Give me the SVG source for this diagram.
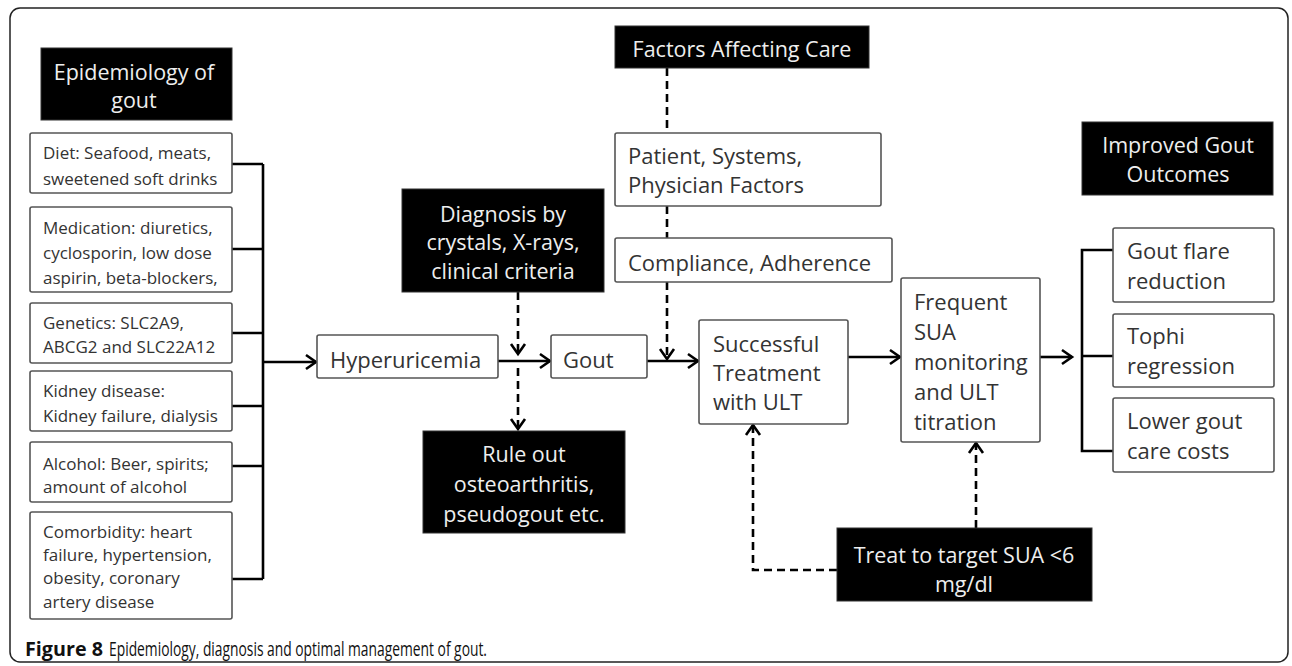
<svg xmlns="http://www.w3.org/2000/svg" width="1292" height="666" viewBox="0 0 1292 666">
<defs>
<style>
.bw{fill:#fff;stroke:#555;stroke-width:1.6}
.bb{fill:#000;stroke:#333;stroke-width:1}
.t{font-family:"Open Sans","Liberation Sans",sans-serif;font-size:17px;fill:#333}
.tm{font-family:"Open Sans","Liberation Sans",sans-serif;font-size:22px;fill:#333}
.tw{font-family:"Open Sans","Liberation Sans",sans-serif;font-size:21.5px;fill:#eee}
.c{fill:none;stroke:#000;stroke-width:2.6}
.d{fill:none;stroke:#000;stroke-width:2.6;stroke-dasharray:8 5}
.cap{font-family:"Open Sans","Liberation Sans",sans-serif;font-size:20px;fill:#111}
</style>
<marker id="ah" markerUnits="userSpaceOnUse" markerWidth="16" markerHeight="18" refX="13" refY="8" orient="auto" viewBox="0 0 16 16">
<path d="M3,1 L13,8 L3,15" fill="none" stroke="#000" stroke-width="2.6"/>
</marker>
</defs>
<rect x="10" y="8" width="1278" height="654" rx="10" fill="#fff" stroke="#222" stroke-width="1.5"/>

<g id="connectors">
<path class="c" d="M232,164 H263 M232,249 H263 M232,333 H263 M232,406 H263 M232,466 H263 M232,579 H263 M263,164 V579"/>
<path class="c" d="M263,362 H316" marker-end="url(#ah)"/>
<path class="c" d="M498,361 H550" marker-end="url(#ah)"/>
<path class="c" d="M647,361 H698" marker-end="url(#ah)"/>
<path class="c" d="M848,357 H900" marker-end="url(#ah)"/>
<path class="c" d="M1040,357 H1072" marker-end="url(#ah)"/>
<path class="c" d="M1113,250 H1082 V451 H1113 M1082,356 H1113"/>
<path class="d" d="M518,292 V354" marker-end="url(#ah)"/>
<path class="d" d="M518,368 V429" marker-end="url(#ah)"/>
<path class="d" d="M667,68 V133 M667,206 V238"/>
<path class="d" d="M667,282 V359" marker-end="url(#ah)"/>
<path class="d" d="M976,528 V443" marker-end="url(#ah)"/>
<path class="d" d="M837,570 H753 V425" marker-end="url(#ah)"/>
</g>

<g id="epi-title"><rect class="bb" x="41" y="48" width="191" height="72"/>
<text class="tw" text-anchor="middle"><tspan x="134" y="80">Epidemiology of</tspan><tspan x="134" y="108">gout</tspan></text></g>

<g id="diet"><rect class="bw" x="30" y="133" width="202" height="60" rx="2"/>
<text class="t"><tspan x="43" y="159">Diet: Seafood, meats,</tspan><tspan x="43" y="185">sweetened soft drinks</tspan></text></g>

<g id="medication"><rect class="bw" x="30" y="207" width="202" height="85" rx="2"/>
<text class="t" font-size="16.5"><tspan x="43" y="234">Medication: diuretics,</tspan><tspan x="43" y="259">cyclosporin, low dose</tspan><tspan x="43" y="284">aspirin, beta-blockers,</tspan></text></g>

<g id="genetics"><rect class="bw" x="30" y="303" width="202" height="60" rx="2"/>
<text class="t"><tspan x="43" y="329">Genetics: SLC2A9,</tspan><tspan x="43" y="353">ABCG2 and SLC22A12</tspan></text></g>

<g id="kidney"><rect class="bw" x="30" y="371" width="202" height="60" rx="2"/>
<text class="t"><tspan x="43" y="397">Kidney disease:</tspan><tspan x="43" y="422">Kidney failure, dialysis</tspan></text></g>

<g id="alcohol"><rect class="bw" x="30" y="442" width="202" height="60" rx="2"/>
<text class="t"><tspan x="43" y="470">Alcohol: Beer, spirits;</tspan><tspan x="43" y="493">amount of alcohol</tspan></text></g>

<g id="comorbidity"><rect class="bw" x="30" y="512" width="202" height="107" rx="2"/>
<text class="t"><tspan x="43" y="538">Comorbidity: heart</tspan><tspan x="43" y="561">failure, hypertension,</tspan><tspan x="43" y="584">obesity, coronary</tspan><tspan x="43" y="608">artery disease</tspan></text></g>

<g id="hyperuricemia"><rect class="bw" x="317" y="335" width="181" height="43" rx="2"/>
<text class="tm" x="330" y="368">Hyperuricemia</text></g>

<g id="gout"><rect class="bw" x="551" y="335" width="96" height="43" rx="2"/>
<text class="tm" x="563" y="368">Gout</text></g>

<g id="diagnosis"><rect class="bb" x="402" y="189" width="202" height="103"/>
<text class="tw" text-anchor="middle"><tspan x="503" y="222">Diagnosis by</tspan><tspan x="503" y="250">crystals, X-rays,</tspan><tspan x="503" y="279">clinical criteria</tspan></text></g>

<g id="ruleout"><rect class="bb" x="423" y="431" width="202" height="102"/>
<text class="tw" text-anchor="middle"><tspan x="524" y="462">Rule out</tspan><tspan x="524" y="492">osteoarthritis,</tspan><tspan x="524" y="522">pseudogout etc.</tspan></text></g>

<g id="factors"><rect class="bb" x="615" y="26" width="254" height="42"/>
<text class="tw" x="742" y="57" text-anchor="middle">Factors Affecting Care</text></g>

<g id="patient"><rect class="bw" x="615" y="133" width="266" height="73" rx="2"/>
<text class="tm" font-size="20.5"><tspan x="628" y="164">Patient, Systems,</tspan><tspan x="628" y="193">Physician Factors</tspan></text></g>

<g id="compliance"><rect class="bw" x="615" y="238" width="277" height="44" rx="2"/>
<text class="tm" x="628" y="271">Compliance, Adherence</text></g>

<g id="successful"><rect class="bw" x="699" y="320" width="149" height="104" rx="2"/>
<text class="tm"><tspan x="713" y="352">Successful</tspan><tspan x="713" y="381">Treatment</tspan><tspan x="713" y="410">with ULT</tspan></text></g>

<g id="frequent"><rect class="bw" x="901" y="278" width="139" height="164" rx="2"/>
<text class="tm"><tspan x="914" y="310">Frequent</tspan><tspan x="914" y="340">SUA</tspan><tspan x="914" y="370">monitoring</tspan><tspan x="914" y="400">and ULT</tspan><tspan x="914" y="430">titration</tspan></text></g>

<g id="treat"><rect class="bb" x="837" y="528" width="255" height="73"/>
<text class="tw" text-anchor="middle" font-size="20.5"><tspan x="964" y="563">Treat to target SUA &lt;6</tspan><tspan x="964" y="592">mg/dl</tspan></text></g>

<g id="improved"><rect class="bb" x="1082" y="122" width="191" height="73"/>
<text class="tw" text-anchor="middle"><tspan x="1178" y="153">Improved Gout</tspan><tspan x="1178" y="182">Outcomes</tspan></text></g>

<g id="flare"><rect class="bw" x="1113" y="228" width="161" height="74" rx="2"/>
<text class="tm"><tspan x="1127" y="259">Gout flare</tspan><tspan x="1127" y="289">reduction</tspan></text></g>

<g id="tophi"><rect class="bw" x="1113" y="314" width="161" height="73" rx="2"/>
<text class="tm"><tspan x="1127" y="344">Tophi</tspan><tspan x="1127" y="374">regression</tspan></text></g>

<g id="costs"><rect class="bw" x="1113" y="398" width="161" height="74" rx="2"/>
<text class="tm"><tspan x="1127" y="429">Lower gout</tspan><tspan x="1127" y="459">care costs</tspan></text></g>

<text class="cap" x="25" y="656" font-weight="bold" textLength="78" lengthAdjust="spacingAndGlyphs">Figure 8</text>
<text class="cap" x="109" y="656" textLength="378" lengthAdjust="spacingAndGlyphs">Epidemiology, diagnosis and optimal management of gout.</text>
</svg>
